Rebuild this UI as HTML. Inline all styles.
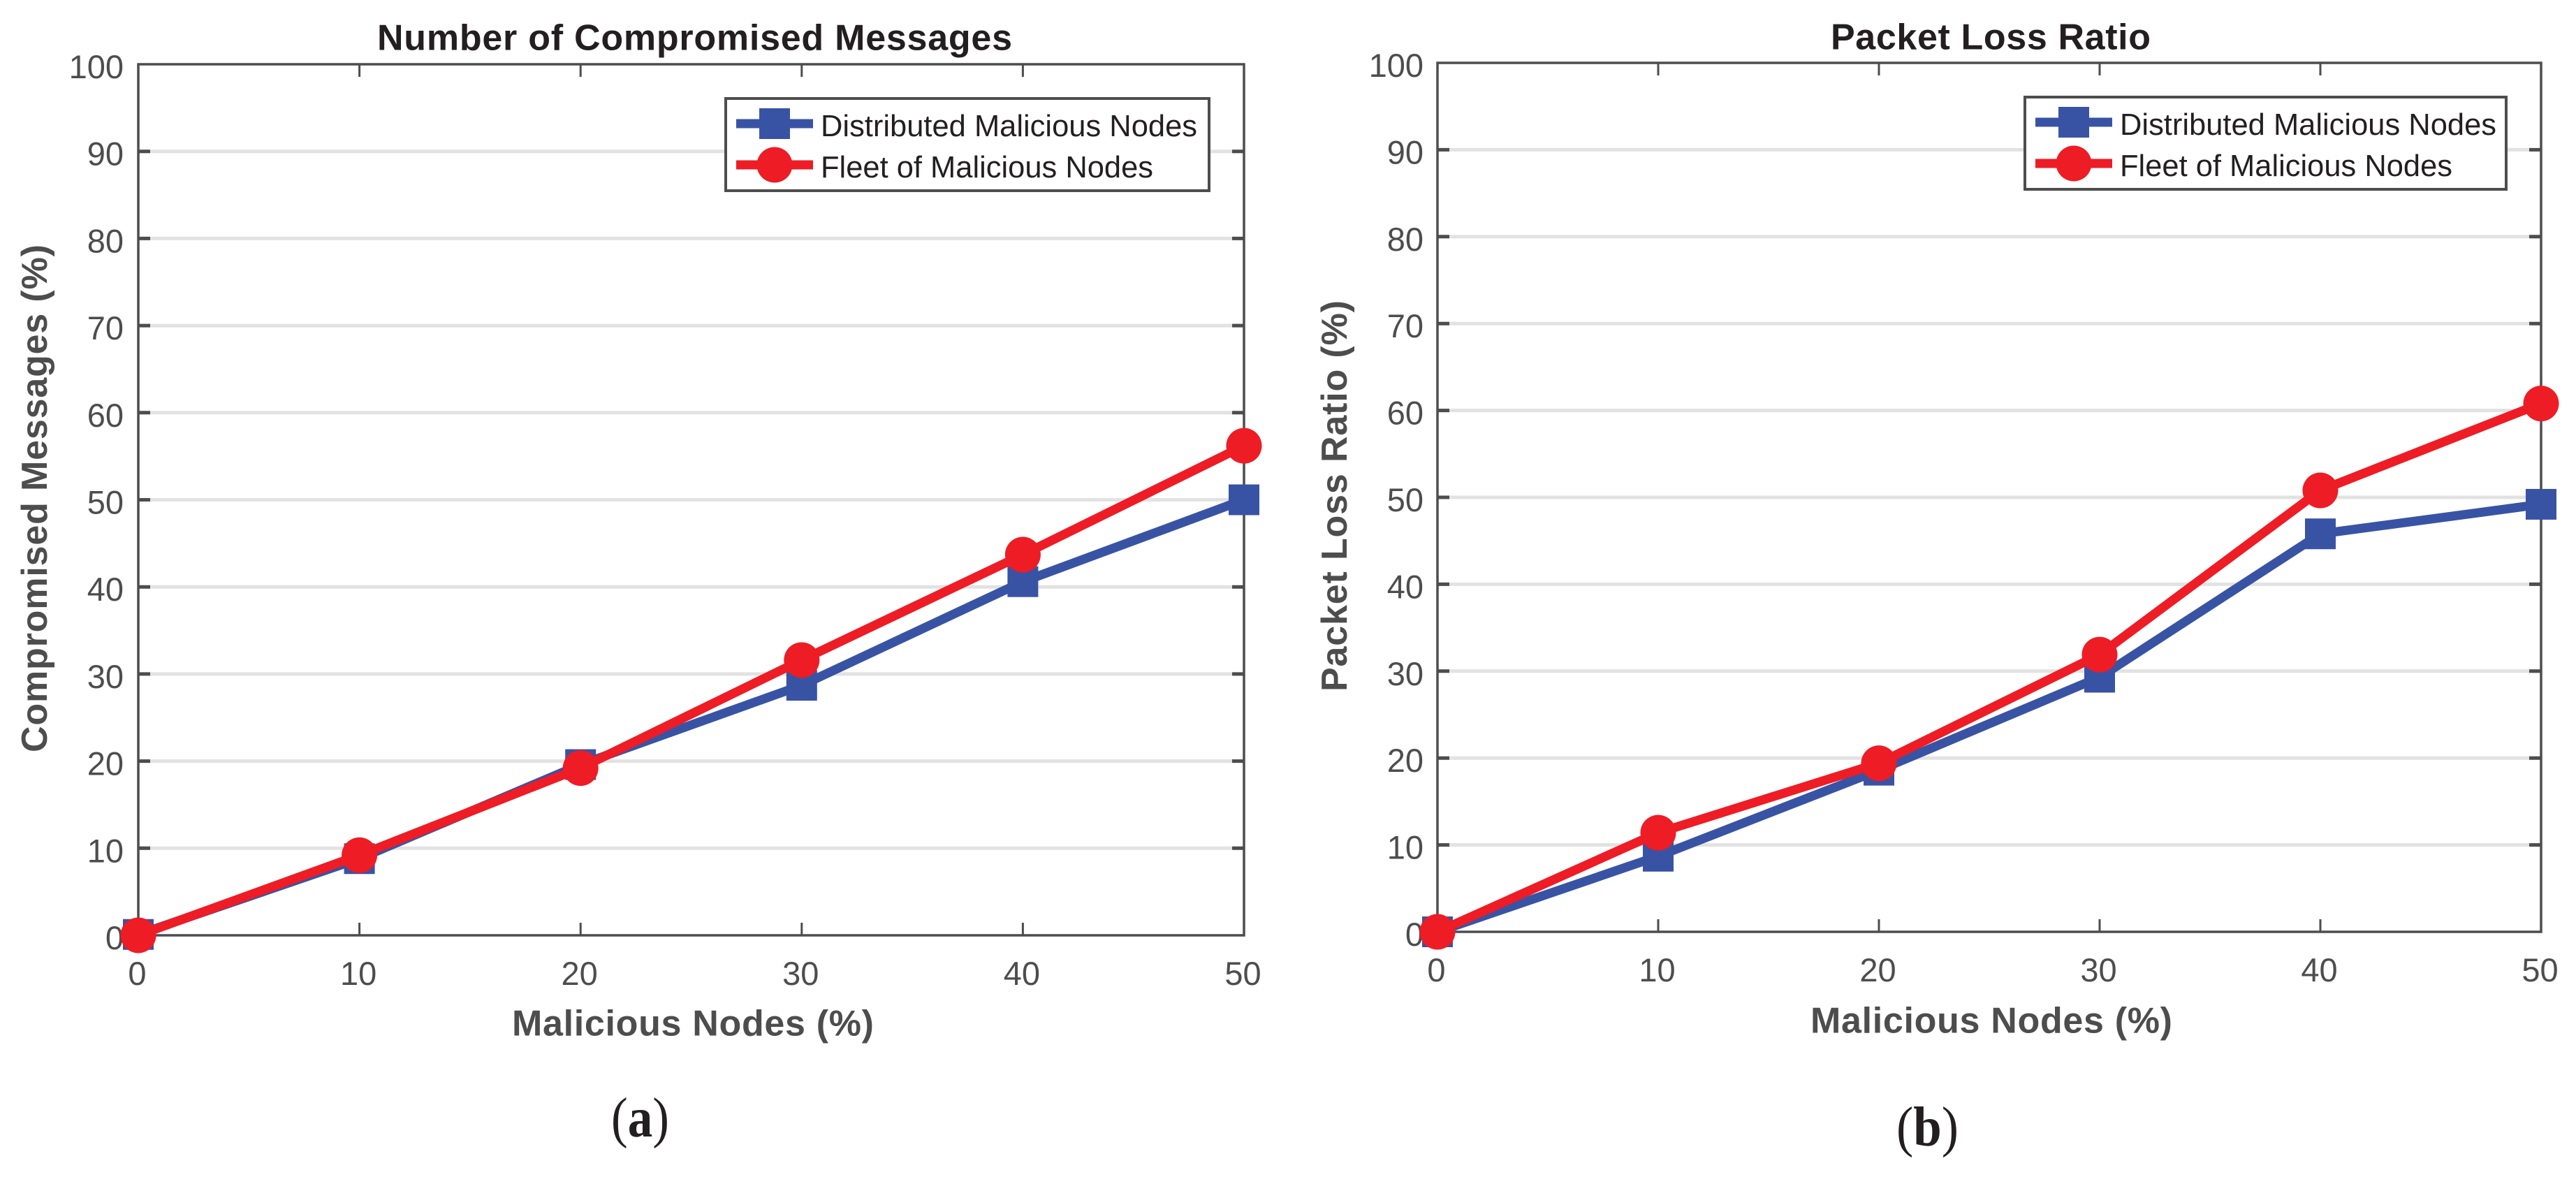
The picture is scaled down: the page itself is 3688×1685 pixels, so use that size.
<!DOCTYPE html>
<html lang="en">
<head>
<meta charset="utf-8">
<title>Compromised Messages and Packet Loss Ratio</title>
<style>
html,body{margin:0;padding:0;background:#fff;width:3688px;height:1685px;overflow:hidden}
svg{display:block}
text{font-family:"Liberation Sans",Arial,sans-serif}
.tick{font-size:47px;fill:#4d4d4d}
.title{font-size:52px;font-weight:bold;fill:#231f20}
.axis-title{font-size:52px;font-weight:bold;fill:#4d4d4d}
.legend-text{font-size:44px;fill:#231f20}
.caption{font-family:"Liberation Serif",serif;font-size:80px;fill:#231f20}
.caption tspan{font-weight:bold}
</style>
</head>
<body>
<svg id="figure" xmlns="http://www.w3.org/2000/svg" width="3688" height="1685" viewBox="0 0 3688 1685">
  <rect width="3688" height="1685" fill="#fff"/>
  <g id="panel-a"></g>
  <g id="panel-b"></g>

  <text class="title" x="540" y="71.5" textLength="909" lengthAdjust="spacing">Number of Compromised Messages</text>
  <text class="axis-title" x="733" y="1482.5" textLength="518" lengthAdjust="spacing">Malicious Nodes (%)</text>
  <text class="axis-title" transform="translate(67 1077) rotate(-90)" textLength="727" lengthAdjust="spacing">Compromised Messages (%)</text>
  <text class="caption" x="875" y="1627" textLength="83" lengthAdjust="spacingAndGlyphs">(<tspan>a</tspan>)</text>

  <text class="title" x="2621" y="70.5" textLength="458" lengthAdjust="spacing">Packet Loss Ratio</text>
  <text class="axis-title" x="2592" y="1478.5" textLength="518" lengthAdjust="spacing">Malicious Nodes (%)</text>
  <text class="axis-title" transform="translate(1928 990) rotate(-90)" textLength="560" lengthAdjust="spacing">Packet Loss Ratio (%)</text>
  <text class="caption" x="2715" y="1640" textLength="89" lengthAdjust="spacingAndGlyphs">(<tspan>b</tspan>)</text>
</svg>
<script>
const maliciousNodes = [0, 10, 20, 30, 40, 50];
const xTickLabels = [0, 10, 20, 30, 40, 50];
const yTickLabels = [0, 10, 20, 30, 40, 50, 60, 70, 80, 90, 100];
const compromisedDistributed = [0.1, 8.8, 19.6, 28.7, 40.6, 50.0];
const compromisedFleet = [0, 9.2, 19.2, 31.6, 43.7, 56.2];
const lossDistributed = [0, 8.7, 18.6, 29.3, 45.8, 49.2];
const lossFleet = [0, 11.4, 19.4, 31.9, 50.8, 60.8];
const seriesNames = ['Distributed Malicious Nodes', 'Fleet of Malicious Nodes'];

const NS = 'http://www.w3.org/2000/svg';
const BLUE = '#3953a4';
const RED = '#ee1c25';
const DARK = '#4d4d4d';
const GRID = '#e2e2e2';

function make(parent, tag, attrs) {
  const el = document.createElementNS(NS, tag);
  for (const k in attrs) el.setAttribute(k, attrs[k]);
  parent.appendChild(el);
  return el;
}

function drawChart(root, box, legend, blueValues, redValues) {
  const xScale = v => box.left + (v / 50) * (box.right - box.left);
  const yScale = v => box.bottom - (v / 100) * (box.bottom - box.top);

  yTickLabels.forEach(t => {
    if (t === 0 || t === 100) return;
    const y = yScale(t);
    const grid = make(root, 'line', {x1: box.left, x2: box.right, y1: y, y2: y, stroke: GRID, 'stroke-width': 5});
    
    
    const tl = make(root, 'line', {x1: box.left, x2: box.left + 17, y1: y, y2: y, stroke: DARK, 'stroke-width': 5});
    
    
    const tr = make(root, 'line', {x1: box.right - 17, x2: box.right, y1: y, y2: y, stroke: DARK, 'stroke-width': 5});
    
    
  });

  xTickLabels.forEach(t => {
    if (t === 0 || t === 50) return;
    const x = xScale(t);
    const tb = make(root, 'line', {x1: x, x2: x, y1: box.bottom - 18, y2: box.bottom, stroke: DARK, 'stroke-width': 3});
    
    
    const tt = make(root, 'line', {x1: x, x2: x, y1: box.top, y2: box.top + 18, stroke: DARK, 'stroke-width': 3});
    
    
  });

  const frame = make(root, 'rect', {x: box.left, y: box.top, width: box.right - box.left, height: box.bottom - box.top, fill: 'none', stroke: DARK, 'stroke-width': 3.5});
  
  

  yTickLabels.forEach(t => {
    const label = make(root, 'text', {class: 'tick', x: box.labelRight, y: yScale(t) + 20, 'text-anchor': 'end'});
    label.textContent = t;
    
    
  });
  xTickLabels.forEach(t => {
    const label = make(root, 'text', {class: 'tick', x: xScale(t) - 1.5, y: box.xLabelBase, 'text-anchor': 'middle'});
    label.textContent = t;
    
    
  });

  const lg = make(root, 'g', {});
  
  
  const lgBox = make(lg, 'rect', {x: legend.x, y: legend.y, width: legend.w, height: legend.h, fill: '#fff', stroke: DARK, 'stroke-width': 4});
  
  
  const lx1 = legend.x + 15, lx2 = legend.x + 125, mx = legend.x + 70;
  const y1 = legend.y + 36, y2 = legend.y + 95;

  const e1 = make(lg, 'g', {});
  
  
  make(e1, 'line', {x1: lx1, x2: lx2, y1: y1, y2: y1, stroke: BLUE, 'stroke-width': 13});
  make(e1, 'rect', {x: mx - 22, y: y1 - 22, width: 44, height: 44, fill: BLUE});
  const t1 = make(e1, 'text', {class: 'legend-text', x: legend.x + 136, y: y1 + 18, textLength: 539, lengthAdjust: 'spacingAndGlyphs'});
  t1.textContent = seriesNames[0];

  const e2 = make(lg, 'g', {});
  
  
  make(e2, 'line', {x1: lx1, x2: lx2, y1: y2, y2: y2, stroke: RED, 'stroke-width': 13});
  make(e2, 'circle', {cx: mx, cy: y2, r: 25.5, fill: RED});
  const t2 = make(e2, 'text', {class: 'legend-text', x: legend.x + 136, y: y2 + 18, textLength: 476, lengthAdjust: 'spacingAndGlyphs'});
  t2.textContent = seriesNames[1];

  const pts = vals => maliciousNodes.map((n, i) => xScale(n) + ',' + yScale(vals[i])).join(' ');

  const blueGroup = make(root, 'g', {});
  
  
  const blueLine = make(blueGroup, 'polyline', {points: pts(blueValues), fill: 'none', stroke: BLUE, 'stroke-width': 13, 'stroke-linejoin': 'round'});
  
  
  maliciousNodes.forEach((n, i) => {
    const m = make(blueGroup, 'rect', {x: xScale(n) - 22, y: yScale(blueValues[i]) - 22, width: 44, height: 44, fill: BLUE});
    
    
  });

  const redGroup = make(root, 'g', {});
  
  
  const redLine = make(redGroup, 'polyline', {points: pts(redValues), fill: 'none', stroke: RED, 'stroke-width': 13, 'stroke-linejoin': 'round'});
  
  
  maliciousNodes.forEach((n, i) => {
    const m = make(redGroup, 'circle', {cx: xScale(n), cy: yScale(redValues[i]), r: 25.5, fill: RED});
    
    
  });
}

drawChart(document.getElementById('panel-a'),
  {left: 198, right: 1781, top: 92, bottom: 1339, labelRight: 177, xLabelBase: 1410},
  {x: 1039, y: 141, w: 692, h: 132},
  compromisedDistributed, compromisedFleet);

drawChart(document.getElementById('panel-b'),
  {left: 2058, right: 3638, top: 90, bottom: 1334, labelRight: 2038, xLabelBase: 1405},
  {x: 2899, y: 139, w: 689, h: 132},
  lossDistributed, lossFleet);
</script>
</body>
</html>
